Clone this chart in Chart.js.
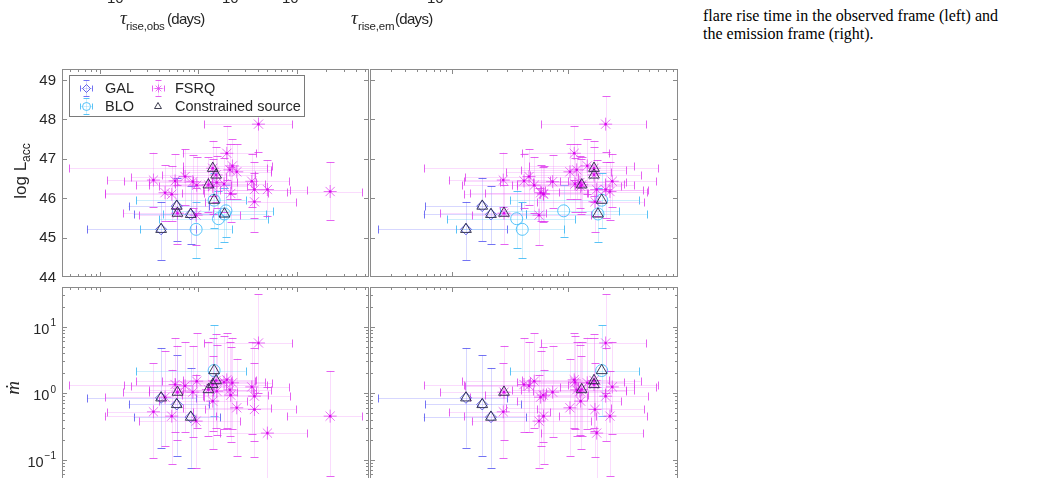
<!DOCTYPE html>
<html><head><meta charset="utf-8">
<script src="https://cdn.jsdelivr.net/npm/chart.js@4.4.1/dist/chart.umd.min.js"></script>
<style>
html,body{margin:0;padding:0;background:#fff;overflow:hidden;width:1053px;height:478px;position:relative;}
canvas{position:absolute;}
.t{position:absolute;white-space:nowrap;color:#262626;font-family:"Liberation Sans",Arial,Helvetica,sans-serif;line-height:1;}
.serif{font-family:"Liberation Serif","Times New Roman",serif;color:#111;}
</style></head><body>
<canvas id="tl" width="375" height="285" style="left:0;top:0"></canvas>
<canvas id="tr" width="320" height="285" style="left:365px;top:0"></canvas>
<canvas id="bl" width="375" height="230" style="left:0;top:280px"></canvas>
<canvas id="br" width="320" height="230" style="left:365px;top:280px"></canvas>

<!-- cut-off tick labels of the figure above -->
<div class="t" style="left:107px;top:-10px;font-size:15px">10</div>
<div class="t" style="left:222px;top:-10px;font-size:15px">10</div>
<div class="t" style="left:282px;top:-10px;font-size:15px">10</div>
<div class="t" style="left:427px;top:-10px;font-size:15px">10</div>
<!-- x titles of the figure above -->
<div class="t serif" style="left:120px;top:8px;font-size:19px;font-style:italic;color:#262626">τ</div>
<div class="t" style="left:126px;top:21px;font-size:11.5px;letter-spacing:-0.2px">rise,obs</div>
<div class="t" style="left:167px;top:11px;font-size:15px;letter-spacing:-0.7px">(days)</div>
<div class="t serif" style="left:351px;top:8px;font-size:19px;font-style:italic;color:#262626">τ</div>
<div class="t" style="left:358px;top:21px;font-size:11.5px;letter-spacing:-0.2px">rise,em</div>
<div class="t" style="left:395px;top:11px;font-size:15px;letter-spacing:-0.7px">(days)</div>
<!-- caption fragment -->
<div class="t serif" style="left:703px;top:8px;font-size:16px;color:#000">flare rise time in the observed frame (left) and</div>
<div class="t serif" style="left:703px;top:26px;font-size:16px;color:#000">the emission frame (right).</div>
<!-- y titles -->
<div class="t" style="left:20px;top:171px;font-size:17px;transform:translate(-50%,-50%) rotate(-90deg)">log L<span style="font-size:12px;position:relative;top:4px">acc</span></div>
<div class="t serif" style="left:12px;top:388px;font-size:19px;font-style:italic;color:#262626;transform:translate(-50%,-50%) rotate(-90deg)">ṁ</div>
<!-- legend texts -->
<div class="t" style="left:105px;top:81px;font-size:14.5px">GAL</div>
<div class="t" style="left:175px;top:81px;font-size:14.5px">FSRQ</div>
<div class="t" style="left:105px;top:99px;font-size:14.5px">BLO</div>
<div class="t" style="left:175px;top:99px;font-size:14.5px">Constrained source</div>

<script>
// ---------------- data ----------------
const srcType = ['GAL','GAL','GAL','BLO','BLO','BLO','BLO','BLO',
  'FSRQ','FSRQ','FSRQ','FSRQ','FSRQ','FSRQ','FSRQ','FSRQ','FSRQ','FSRQ','FSRQ','FSRQ','FSRQ',
  'FSRQ','FSRQ','FSRQ','FSRQ','FSRQ','FSRQ','FSRQ','FSRQ','FSRQ','FSRQ','FSRQ','FSRQ','FSRQ'];
const constrained = [1,1,1,1,1,0,0,0, 1,1,1,1,0,0,0,0,0,0,0,0,0, 0,0,0,0,0,0,0,0,0,0,0,0,0];
// log10 of rise time (days), observed frame and emission frame
const logTauObs = [0.621,0.780,0.922,1.160,1.265,0.977,1.204,1.280,
  0.787,1.146,1.180,1.102,1.611,1.289,1.346,1.390,1.320,0.543,0.763,0.865,0.943,
  0.983,0.661,0.729,1.261,1.543,1.570,1.702,1.570,2.340,0.977,1.187,1.146,1.329];
const logTauEm = [0.123,0.263,0.338,1.290,1.258,0.607,0.559,0.963,
  0.450,1.224,1.224,1.118,1.324,1.054,1.166,1.017,1.075,0.444,0.622,0.665,0.868,
  0.710,0.765,0.790,1.060,1.381,1.324,1.247,1.232,1.361,0.751,1.103,1.109,0.788];
const tauErrLo = [0.754,0.49,0.58,0.79,0.62,0.57,0.60,0.55,
  0.55,1.46,0.55,0.60,0.553,0.45,0.50,0.55,0.48,0.47,0.52,0.55,0.45,
  0.62,0.61,0.68,0.50,0.45,0.52,0.48,0.50,0.44,0.58,0.40,0.55,0.50];
const tauErrHi = [0.355,0.33,0.30,0.32,0.42,0.36,0.50,0.48,
  0.36,0.55,0.40,0.45,0.345,0.30,0.40,0.35,0.42,0.40,0.38,0.42,0.45,
  0.35,0.40,0.45,0.42,0.38,0.36,0.40,0.42,0.32,0.45,0.40,0.35,0.38];
// log L_acc
const logLacc = [45.21,45.80,45.59,45.95,45.60,45.21,45.48,45.68,
  45.62,46.76,46.59,46.34,47.88,47.14,46.82,46.67,46.72,46.46,46.44,46.55,46.42,
  46.33,46.14,46.10,46.36,46.43,46.22,46.22,45.91,46.17,45.57,46.40,46.30,46.12];
const lErrLo = [0.78,0.89,0.75,0.70,0.72,0.74,0.75,0.66,
  0.78,0.70,0.68,0.70,0.70,0.69,0.72,0.68,0.75,0.68,0.70,0.72,0.66,
  0.70,0.72,0.68,0.70,0.66,0.72,0.68,0.78,0.72,0.76,0.65,0.70,0.72];
const lErrHi = [0.70,0.72,0.72,0.68,0.66,0.70,0.70,0.65,
  0.72,0.70,0.70,0.70,0.71,0.70,0.68,0.70,0.66,0.70,0.68,0.70,0.68,
  0.72,0.70,0.72,0.66,0.70,0.70,0.75,0.72,0.75,0.70,0.68,0.70,0.68];
// log10 of accretion rate (null: not shown)
const logMdot = [-0.07,-0.17,-0.36,0.34,null,null,null,null,
  0.015,0.13,0.19,0.054,0.754,0.20,0.155,-0.22,0.05,-0.28,0.13,0.11,0.015,
  0.18,-0.06,-0.345,0.165,0.094,-0.045,-0.60,-0.245,-0.345,-0.42,0.03,-0.12,-0.03];
const mErrLo = [0.75,0.77,0.76,0.68,0,0,0,0,
  0.72,0.70,0.72,0.70,0.75,0.72,0.70,0.72,0.70,0.70,0.72,0.70,0.68,
  0.70,0.74,0.72,0.70,0.70,0.68,0.70,0.72,0.90,0.70,0.66,0.72,0.70];
const mErrHi = [0.75,0.74,0.74,0.68,0,0,0,0,
  0.70,0.70,0.70,0.72,0.73,0.70,0.68,0.74,0.72,0.73,0.70,0.66,0.70,
  0.72,0.70,0.70,0.70,0.68,0.72,0.70,0.70,0.68,0.70,0.70,0.68,0.72];
const yTicksL = [44,45,46,47,48,49];
const yTicksMdotExp = [-1,0,1];

// ---------------- styles ----------------
const STY = {
  GAL:  {line:'rgba(110,110,255,0.28)', cap:'rgba(80,80,240,0.8)', border:'rgba(75,75,225,0.85)', ps:'rectRot', r:5.5},
  BLO:  {line:'rgba(90,200,250,0.30)', cap:'rgba(60,185,245,0.85)', border:'rgba(70,190,250,0.9)', ps:'circle', r:6},
  FSRQ: {line:'rgba(235,110,248,0.25)', cap:'rgba(222,60,238,0.8)', border:'rgba(226,70,242,0.75)', ps:'star', r:6.5}
};
const FONT = '"Liberation Sans", Arial, sans-serif';

function buildPoints(type, xKey, yKey) {
  const out = [];
  for (let i = 0; i < srcType.length; i++) {
    if (type !== 'TRI' && srcType[i] !== type) continue;
    if (type === 'TRI' && !constrained[i]) continue;
    const lx = xKey === 'obs' ? logTauObs[i] : logTauEm[i];
    const p = {x: 10 ** lx, xl: 10 ** (lx - tauErrLo[i]), xh: 10 ** (lx + tauErrHi[i])};
    if (yKey === 'L') {
      p.y = logLacc[i]; p.yl = logLacc[i] - lErrLo[i]; p.yh = logLacc[i] + lErrHi[i];
    } else {
      if (logMdot[i] === null) continue;
      p.y = 10 ** logMdot[i]; p.yl = 10 ** (logMdot[i] - mErrLo[i]); p.yh = 10 ** (logMdot[i] + mErrHi[i]);
    }
    out.push(p);
  }
  return out;
}

function markerDs(type, xKey, yKey, order) {
  const s = STY[type];
  return {type:'scatter', data: buildPoints(type, xKey, yKey), pointStyle: s.ps, pointRadius: s.r,
    borderColor: s.border, backgroundColor:'rgba(0,0,0,0)', pointBorderWidth: 1, order,
    errLine: s.line, errCap: s.cap};
}

const errPlugin = {
  id: 'errbars',
  beforeDatasetsDraw(chart) {
    const {ctx, chartArea: a, scales: {x, y}} = chart;
    ctx.save();
    ctx.beginPath(); ctx.rect(a.left, a.top, a.right - a.left, a.bottom - a.top); ctx.clip();
    ctx.lineWidth = 1;
    const dss = chart.data.datasets.filter(d => d.errLine).sort((p, q) => q.order - p.order);
    for (const ds of dss) {
      ctx.strokeStyle = ds.errLine; ctx.beginPath();
      for (const p of ds.data) {
        const px = Math.round(x.getPixelForValue(p.x)) + 0.5, py = Math.round(y.getPixelForValue(p.y)) + 0.5;
        ctx.moveTo(x.getPixelForValue(p.xl), py); ctx.lineTo(x.getPixelForValue(p.xh), py);
        ctx.moveTo(px, y.getPixelForValue(p.yl)); ctx.lineTo(px, y.getPixelForValue(p.yh));
      }
      ctx.stroke();
      ctx.strokeStyle = ds.errCap; ctx.beginPath();
      for (const p of ds.data) {
        const px = Math.round(x.getPixelForValue(p.x)) + 0.5, py = Math.round(y.getPixelForValue(p.y)) + 0.5;
        for (const v of [p.xl, p.xh]) { const q = Math.round(x.getPixelForValue(v)) + 0.5; ctx.moveTo(q, py - 4); ctx.lineTo(q, py + 4); }
        for (const v of [p.yl, p.yh]) { const q = Math.round(y.getPixelForValue(v)) + 0.5; ctx.moveTo(px - 4, q); ctx.lineTo(px + 4, q); }
      }
      ctx.stroke();
    }
    ctx.restore();
  }
};

function tickList(scale) {
  const out = [];
  if (scale.type === 'logarithmic') {
    const lmin = Math.log10(scale.min), lmax = Math.log10(scale.max);
    for (let d = Math.floor(lmin); d <= Math.ceil(lmax); d++)
      for (let k = 1; k <= 9; k++) { const lv = Math.log10(k) + d; if (lv > lmin + 1e-6 && lv < lmax - 1e-6) out.push({v: 10 ** lv, major: k === 1}); }
  } else {
    for (const v of yTicksL) if (v > scale.min && v < scale.max) out.push({v, major: true});
  }
  return out;
}

const framePlugin = {
  id: 'frame',
  afterDatasetsDraw(chart, args, opts) {
    const {ctx, chartArea: a, scales: {x, y}} = chart;
    const L = Math.round(a.left) + 0.5, R = Math.round(a.right) - 0.5, T = Math.round(a.top) + 0.5, B = Math.round(a.bottom) - 0.5;
    ctx.save(); ctx.strokeStyle = '#8a8a8a'; ctx.lineWidth = 1; ctx.beginPath();
    for (const t of tickList(x)) {
      const p = Math.round(x.getPixelForValue(t.v)) + 0.5, len = t.major ? 4.5 : 2.5;
      ctx.moveTo(p, B); ctx.lineTo(p, B - len); ctx.moveTo(p, T); ctx.lineTo(p, T + len);
    }
    for (const t of tickList(y)) {
      const p = Math.round(y.getPixelForValue(t.v)) + 0.5, len = t.major ? 4.5 : 2.5;
      ctx.moveTo(L, p); ctx.lineTo(L + len, p); ctx.moveTo(R, p); ctx.lineTo(R - len, p);
    }
    ctx.stroke();
    ctx.strokeRect(L, T, R - L, B - T);
    if (opts.labels) {
      ctx.fillStyle = '#262626'; ctx.textBaseline = 'middle'; ctx.textAlign = 'right';
      const right = a.left - 6;
      if (y.type === 'linear') {
        ctx.font = '15px ' + FONT;
        for (const v of yTicksL) ctx.fillText(String(v), right, y.getPixelForValue(v) + 0.5);
      } else {
        for (const e of yTicksMdotExp) {
          const py = y.getPixelForValue(10 ** e);
          const es = e < 0 ? '\u2212' + Math.abs(e) : String(e);
          ctx.font = '10px ' + FONT;
          const ew = ctx.measureText(es).width;
          ctx.fillText(es, right, py - 3);
          ctx.font = '14.5px ' + FONT;
          ctx.fillText('10', right - ew - 1, py + 3);
        }
      }
    }
    ctx.restore();
  }
};

function drawMark(ctx, style, r, x, y) {
  if (Chart.helpers && Chart.helpers.drawPoint) {
    Chart.helpers.drawPoint(ctx, {pointStyle: style, radius: r, rotation: 0, borderWidth: 1}, x, y);
  }
}

const legendPlugin = {
  id: 'legendbox',
  afterDraw(chart) {
    const ctx = chart.ctx;
    ctx.save();
    ctx.fillStyle = '#fff'; ctx.fillRect(69.5, 75.5, 235, 41);
    ctx.strokeStyle = '#7a7a7a'; ctx.lineWidth = 1; ctx.strokeRect(69.5, 75.5, 235, 41);
    const sym = (cx, cy, s) => {
      ctx.strokeStyle = s.line; ctx.beginPath();
      ctx.moveTo(cx - 6, cy); ctx.lineTo(cx + 6, cy); ctx.moveTo(cx, cy - 8); ctx.lineTo(cx, cy + 8); ctx.stroke();
      ctx.strokeStyle = s.cap; ctx.beginPath();
      ctx.moveTo(cx - 6, cy - 3); ctx.lineTo(cx - 6, cy + 3); ctx.moveTo(cx + 6, cy - 3); ctx.lineTo(cx + 6, cy + 3);
      ctx.moveTo(cx - 3, cy - 8); ctx.lineTo(cx + 3, cy - 8); ctx.moveTo(cx - 3, cy + 8); ctx.lineTo(cx + 3, cy + 8); ctx.stroke();
      ctx.strokeStyle = s.border; ctx.fillStyle = 'rgba(0,0,0,0)';
      drawMark(ctx, s.ps, 4, cx, cy);
    };
    sym(86.5, 88.5, STY.GAL);
    sym(86.5, 106.5, STY.BLO);
    sym(158.5, 88.5, STY.FSRQ);
    ctx.strokeStyle = 'rgba(40,40,60,0.9)'; ctx.fillStyle = 'rgba(0,0,0,0)';
    drawMark(ctx, 'triangle', 4, 158, 106.5);
    ctx.restore();
  }
};

function makePanel(id, xKey, yKey, pad, xr, withYLabels, legend) {
  const datasets = [
    {type:'scatter', data: buildPoints('TRI', xKey, yKey), pointStyle:'triangle', pointRadius:6.2,
      borderColor:'rgba(40,40,70,0.9)', backgroundColor:'rgba(0,0,0,0)', pointBorderWidth:1, order:0},
    {type:'scatter', data: buildPoints('FSRQ', xKey, yKey), pointStyle:'circle', pointRadius:1.3,
      borderColor:'rgba(215,0,235,0.9)', backgroundColor:'rgba(215,0,235,0.9)', pointBorderWidth:0, order:1},
    markerDs('FSRQ', xKey, yKey, 2),
    markerDs('BLO', xKey, yKey, 3),
    markerDs('GAL', xKey, yKey, 4)
  ];
  const yScale = yKey === 'L'
    ? {type:'linear', min:44, max:49.28, display:false}
    : {type:'logarithmic', min:10 ** -1.59, max:10 ** 1.595, display:false};
  const plugins = [errPlugin, framePlugin];
  if (legend) plugins.push(legendPlugin);
  return new Chart(document.getElementById(id), {
    type:'scatter',
    data:{datasets},
    options:{
      responsive:false, animation:false, events:[],
      layout:{padding:pad, autoPadding:false},
      plugins:{legend:{display:false}, tooltip:{enabled:false}, frame:{labels: withYLabels}},
      scales:{
        x:{type:'logarithmic', min:10 ** xr[0], max:10 ** xr[1], display:false},
        y: yScale
      }
    },
    plugins
  });
}

makePanel('tl', 'obs', 'L', {left:62, right:6, top:69, bottom:8}, [-0.387, 2.735], true, true);
makePanel('tr', 'em', 'L', {left:5, right:7, top:69, bottom:8}, [-0.702, 1.946], false, false);
makePanel('bl', 'obs', 'M', {left:62, right:6, top:7, bottom:11}, [-0.387, 2.735], true, false);
makePanel('br', 'em', 'M', {left:5, right:7, top:7, bottom:11}, [-0.702, 1.946], false, false);
</script>
</body></html>
